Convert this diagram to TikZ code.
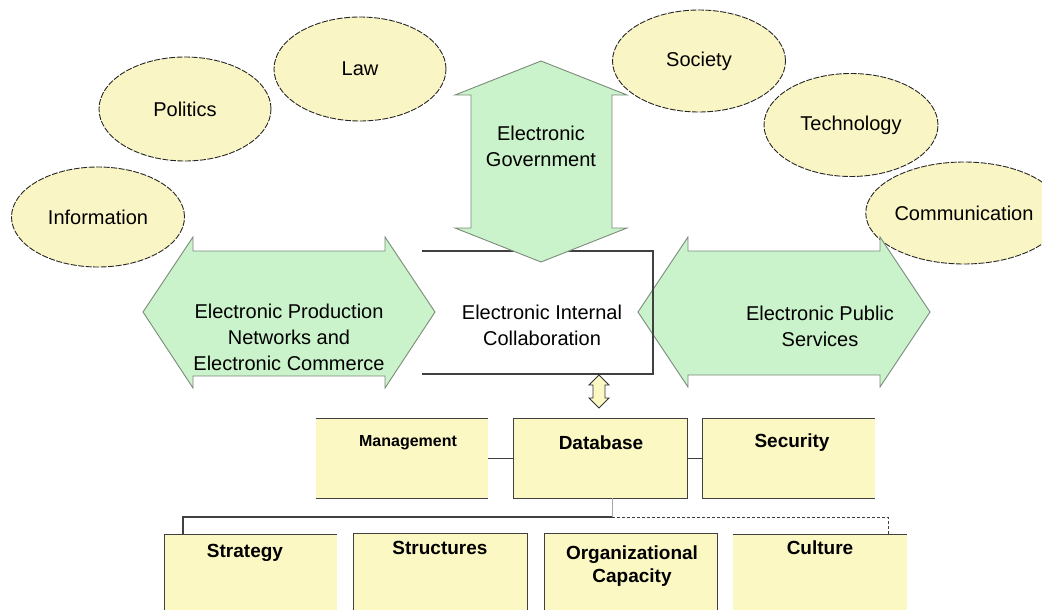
\documentclass[tikz,border=0pt]{standalone}
\usepackage{fontspec}
\setmainfont{Liberation Sans}
\usetikzlibrary{shapes.geometric}
\definecolor{ellfill}{HTML}{FAF5C4}
\definecolor{boxfill}{HTML}{FCF8C4}
\definecolor{arrfill}{HTML}{CBF3CB}
\definecolor{arredge}{HTML}{7A8A7A}
\definecolor{boxedge}{HTML}{404040}
\tikzset{
  ell/.style={ellipse, fill=ellfill, draw=black!85, line width=0.9pt,
    dash pattern=on 6pt off 1.5pt, inner sep=0pt,
    font=\fontsize{20}{26}\selectfont},
  greenarrow/.style={fill=arrfill, draw=arredge, line width=0.9pt},
  yelarrow/.style={fill=boxfill, draw=black!80, line width=0.8pt},
  boxbg/.style={fill=boxfill, inner sep=0pt},
  boxline/.style={draw=boxedge, line width=1.3pt},
  conn/.style={draw=boxedge, line width=1.2pt},
  arrtext/.style={align=center, font=\fontsize{20}{26}\selectfont},
  boldtext/.style={align=center, font=\fontsize{19}{23}\selectfont\bfseries},
}
\begin{document}
\begin{tikzpicture}[x=1pt,y=-1pt]
\useasboundingbox (0,0) rectangle (1042,610);
\clip (0,0) rectangle (1042,610);

% ellipses
\node[ell, minimum width=173pt, minimum height=100pt] (info) at (98,217) {Information};
\node[ell, minimum width=172pt, minimum height=104pt] (pol) at (185,109) {Politics};
\node[ell, minimum width=172pt, minimum height=104pt] (law) at (360,69) {Law};
\node[ell, minimum width=173pt, minimum height=102pt] (soc) at (699,61) {Society};
\node[ell, minimum width=174pt, minimum height=103pt] (tech) at (851,125) {Technology};
\node[ell, minimum width=172pt, minimum height=102pt] (comm) at (964,213) {Communication};

% right green arrow
\path[greenarrow] (638,312) -- (688,237) -- (688,251) -- (880,251) -- (880,237)
  -- (930,312) -- (880,387) -- (880,375) -- (688,375) -- (688,387) -- cycle;

% central box (top, right, bottom edges)
\draw[boxline, line width=1.2pt] (422,251) -- (653,251) -- (653,374) -- (422,374);

% government arrow
\path[greenarrow] (541,61) -- (627,95) -- (612,95) -- (612,228) -- (627,228)
  -- (541,262) -- (455,228) -- (471,228) -- (471,95) -- (455,95) -- cycle;

% left green arrow
\path[greenarrow] (143,312) -- (193,237) -- (193,251) -- (385,251) -- (385,237)
  -- (435,312) -- (385,388) -- (385,376) -- (193,376) -- (193,388) -- cycle;

% arrow texts
\node[arrtext] (gov) at (541,146) {Electronic\\Government};
\node[arrtext] (prod) at (289,337) {Electronic Production\\Networks and\\Electronic Commerce};
\node[arrtext] (intl) at (542,325) {Electronic Internal\\Collaboration};
\node[arrtext] (pub) at (820,326) {Electronic Public\\Services};

% small yellow double arrow
\path[yelarrow] (599,375) -- (609,385) -- (605,385) -- (605,398) -- (609,398)
  -- (599,408) -- (589,398) -- (593,398) -- (593,385) -- (589,385) -- cycle;

% top row boxes
\node[boxbg, minimum width=172pt, minimum height=79pt] (mgmt) at (402,458.5) {};
\node[boxbg, minimum width=173pt, minimum height=79pt] (db) at (600.5,458.5) {};
\node[boxbg, minimum width=172pt, minimum height=79pt] (sec) at (789,458.5) {};
\draw[boxline] (mgmt.north west) -- (mgmt.north east);
\draw[boxline] (mgmt.south west) -- (mgmt.south east);
\draw[boxline] (db.north west) rectangle (db.south east);
\draw[boxline] (sec.north east) -- (sec.north west) -- (sec.south west) -- (sec.south east);
\node[font=\fontsize{16}{19}\selectfont\bfseries] (mgmtt) at (408,443) {Management};
\node[boldtext] (dbt) at (601,443) {Database};
\node[boldtext] (sect) at (792,443) {Security};

\draw[conn] (mgmt.east) -- (db.west);
\draw[conn] (db.east) -- (sec.west);

% bottom row boxes
\node[boxbg, minimum width=172pt, minimum height=80pt] (strat) at (251,575) {};
\node[boxbg, minimum width=173pt, minimum height=81pt] (struc) at (440.5,574.5) {};
\node[boxbg, minimum width=172pt, minimum height=81pt] (org) at (631,574.5) {};
\node[boxbg, minimum width=174pt, minimum height=80pt] (cult) at (820,575) {};
\draw[boxline] (strat.north east) -- (strat.north west) -- (strat.south west);
\draw[boxline] (struc.south west) -- (struc.north west) -- (struc.north east) -- (struc.south east);
\draw[boxline] (org.south west) -- (org.north west) -- (org.north east) -- (org.south east);
\draw[boxline] (cult.north west) -- (cult.north east);
\node[boldtext] (stratt) at (245,553) {Strategy};
\node[boldtext] (struct) at (440,548) {Structures};
\node[boldtext] (orgt) at (632,566.5) {Organizational\\Capacity};
\node[boldtext] (cultt) at (820,548) {Culture};

% connector lines above bottom row
\coordinate (jL) at (183,517);
\coordinate (jM) at (612,517);
\coordinate (jR) at (888,517);
\draw[draw=black!35, line width=0.8pt] (db.south -| jM) -- (jM);
\draw[conn] (strat.north -| jL) -- (jL) -- (jM);
\draw[conn, line width=1pt, dash pattern=on 3pt off 2pt] (jM) -- (jR) -- (jR |- cult.north);
\end{tikzpicture}
\end{document}
